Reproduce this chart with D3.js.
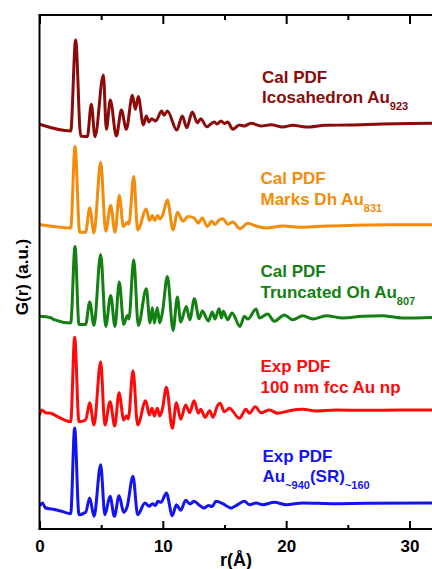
<!DOCTYPE html>
<html><head><meta charset="utf-8">
<script src="https://cdn.jsdelivr.net/npm/d3@7"></script>
<style>
html,body{margin:0;padding:0;background:#fff;overflow:hidden;}
svg{display:block;font-family:Arial,"Liberation Sans",sans-serif;font-weight:bold;}
</style></head>
<body>
<svg id="chart" width="432" height="569"></svg>
<script>
// r (Å) ticks
const majorTicks = [0, 10, 20, 30];
const minorTicks = [5, 15, 25];
const seriesNames = ["Icosahedron Au923", "Marks Dh Au831", "Truncated Oh Au807", "100 nm fcc Au np", "Au~940(SR)~160"];
const seriesColors = ["#8B0A0A", "#F28C0A", "#138013", "#FF0A0A", "#1414F0"];
const seriesOffsets = [40.4, 30.4, 21.2, 11.9, 2.6];

// [r, G] points (G in a.u., relative to each curve's baseline)
const icosahedron = [[0,0.07],[2.53,-0.6],[2.93,8.5],[3.34,-1.1],[3.88,-1.16],[4.2,2.07],[4.5,-1.16],[5.18,5.0],[5.42,-0.43],[5.74,2.5],[6.23,-1.1],[6.64,1.5],[7.04,-0.43],[7.53,2.97],[7.77,1.57],[8.01,2.84],[8.42,0],[8.66,0.9],[8.88,0.3],[9.1,0.63],[9.42,0.4],[9.91,1.4],[10.1,0.97],[10.37,1.4],[11.13,-0.5],[11.58,0.9],[11.94,-0.27],[12.39,1.3],[12.8,0.23],[13.07,0.63],[13.56,-0.17],[14.15,0.3],[14.4,0.1],[14.72,0.4],[15.0,0.15],[15.26,0.3],[15.67,-0.43],[16.2,0],[16.6,-0.1],[17.15,0.17],[17.96,-0.1],[18.77,0.03],[19.72,-0.2],[20.53,-0.03],[21.6,-0.2],[23.2,-0.03],[25.1,0],[27.8,0.1],[31.8,0.17],[33,0.17]];
const marksDh = [[0,0.04],[2.53,-0.3],[2.88,7.84],[3.26,-0.73],[3.74,-0.73],[4.07,1.7],[4.42,-0.8],[4.96,6.27],[5.37,-0.63],[5.77,1.94],[6.12,-0.73],[6.47,2.94],[6.8,-0.16],[7.12,0.27],[7.25,0.1],[7.64,4.84],[7.96,-0.5],[8.66,1.6],[8.9,0.44],[9.15,0.94],[9.34,0.44],[9.58,0.94],[9.77,0.6],[10.0,1.04],[10.37,2.5],[10.83,-0.5],[11.18,1.27],[11.64,0.37],[12.04,0.84],[12.53,0.7],[12.88,0.17],[13.2,0.7],[13.61,-0.16],[13.96,0.37],[14.23,0.04],[14.56,0.5],[14.86,0.63],[15.26,0.07],[15.67,0.3],[16.26,-0.37],[16.88,0.17],[17.56,-0.1],[18.37,-0.3],[19.72,-0.1],[21.35,-0.23],[23.24,-0.1],[25.67,-0.03],[28.37,0.03],[33,0.03]];
const truncatedOh = [[0,0.07],[0.91,-0.07],[1.18,-0.27],[2.53,-0.6],[2.88,7.06],[3.2,-0.74],[3.74,-0.74],[4.07,1.5],[4.42,-0.84],[4.96,6.26],[5.37,-0.94],[5.77,2.16],[6.12,-0.94],[6.47,3.5],[6.83,-0.74],[7.12,0.16],[7.25,-0.2],[7.64,5.73],[8.01,-0.84],[8.66,2.83],[8.96,-0.6],[9.15,0.93],[9.31,-0.6],[9.55,0.93],[9.75,-0.6],[9.96,0.4],[10.37,4.06],[10.83,-1.34],[11.18,2.0],[11.45,-0.5],[11.91,1.06],[12.18,-0.27],[12.56,1.83],[12.94,-0.17],[13.2,0.6],[13.69,-0.4],[14.01,0.5],[14.23,-0.2],[14.56,0.83],[14.75,-0.1],[14.9,0.57],[15.26,-0.27],[15.61,0.4],[16.26,-0.94],[16.61,0.07],[16.9,-0.2],[17.56,0.8],[17.83,-0.1],[18.5,0.3],[19.04,-0.43],[19.85,0.2],[20.53,-0.27],[21.35,0.13],[22.16,-0.2],[23.24,0.13],[24.6,-0.1],[26.2,0.07],[27.8,0.13],[29.4,-0.1],[33,0]];
const fccNp = [[0,-0.5],[0.18,0],[0.5,-0.27],[0.91,-0.33],[1.58,-0.73],[2.53,-1.17],[2.85,7.27],[3.2,-1.17],[3.74,-1.0],[4.07,0.73],[4.42,-1.5],[4.96,4.83],[5.3,-1.5],[5.72,0.83],[6.1,-1.6],[6.45,1.73],[6.83,-1.0],[7.04,-0.6],[7.2,-0.9],[7.58,3.93],[7.96,-1.5],[8.61,0.93],[8.9,-0.5],[9.12,0.17],[9.31,-0.6],[9.55,0.17],[9.75,-0.6],[9.96,0.07],[10.29,2.27],[10.77,-1.83],[11.1,0.73],[11.45,-0.93],[11.85,0.5],[12.18,-0.27],[12.53,0.93],[12.88,-0.33],[13.07,0.07],[13.42,-0.73],[13.8,-0.07],[14.07,-0.73],[14.42,0.4],[14.64,0.67],[14.99,-0.17],[15.4,0.17],[16.2,-0.83],[16.75,0.07],[17.02,-0.33],[17.5,0.33],[17.96,-0.27],[18.64,0],[19.31,-0.33],[20.26,-0.07],[21.35,0.07],[22.43,-0.1],[24.05,0],[26.5,-0.03],[29.2,0],[33,0]];
const auSR = [[0,-0.33],[0.23,0],[0.5,-0.5],[1.0,-0.6],[1.8,-0.83],[2.53,-1.07],[2.85,7.5],[3.2,-1.17],[3.74,-0.93],[4.07,0.5],[4.42,-1.33],[4.96,3.83],[5.3,-1.17],[5.72,0.67],[6.07,-1.33],[6.45,0.73],[6.83,-0.93],[7.1,-0.4],[7.58,2.67],[7.96,-1.17],[8.55,0],[8.9,-0.33],[9.15,-0.07],[9.4,-0.25],[9.6,0.17],[9.85,0.07],[10.29,1.0],[10.77,-1.27],[11.1,-0.17],[11.45,-0.73],[11.85,0.27],[12.2,-0.1],[12.53,0.17],[12.94,-0.2],[13.34,-0.5],[13.7,-0.25],[14.0,-0.35],[14.31,0.17],[14.86,-0.07],[15.53,-0.5],[15.94,-0.27],[16.61,0.17],[17.02,-0.17],[17.56,0],[18.1,-0.17],[19.04,0.07],[19.99,-0.17],[21.35,0],[23.8,-0.07],[26.5,-0.03],[33,0]];
const seriesData = [icosahedron, marksDh, truncatedOh, fccNp, auSR];

const svg = d3.select("#chart");
const x = d3.scaleLinear().domain([0, 30]).range([39.5, 409.5]);
const y = d3.scaleLinear().domain([0, 51.4]).range([529, 15]);
const xEnd = 440;

// curves
const clip = svg.append("clipPath").attr("id","plotclip").append("rect")
  .attr("x", 39.5).attr("y", 0).attr("width", 400).attr("height", 529);
seriesData.forEach((d, i) => {
  const line = d3.line()
    .x(p => x(p[0]))
    .y(p => y(p[1] + seriesOffsets[i]))
    .curve(d3.curveMonotoneX);
  svg.append("path").attr("d", line(d)).attr("fill","none")
    .attr("stroke", seriesColors[i]).attr("stroke-width", 3)
    .attr("stroke-linejoin","round").attr("clip-path","url(#plotclip)");
});

// axes
const axisBottom = d3.axisBottom(x).tickValues(majorTicks).tickSize(-8).tickPadding(11).tickFormat(d3.format("d"));
const gb = svg.append("g").attr("transform", `translate(0,${y(0)})`).call(axisBottom);
const gbm = svg.append("g").attr("transform", `translate(0,${y(0)})`).call(d3.axisBottom(x).tickValues(minorTicks).tickSize(-4).tickFormat(""));
const gt = svg.append("g").attr("transform", `translate(0,${y(51.4)})`).call(d3.axisTop(x).tickValues(majorTicks).tickSize(-9).tickFormat(""));
const gtm = svg.append("g").attr("transform", `translate(0,${y(51.4)})`).call(d3.axisTop(x).tickValues(minorTicks).tickSize(-5).tickFormat(""));
[gb, gbm, gt, gtm].forEach(g => {
  g.select(".domain").remove();
  g.selectAll(".tick line").attr("stroke","#000").attr("stroke-width",2);
});
gb.selectAll(".tick text").attr("font-size", 17).attr("font-weight","bold")
  .attr("font-family","Arial, 'Liberation Sans', sans-serif").attr("fill","#000");

// frame lines
svg.append("line").attr("x1", x(0)).attr("x2", x(0)).attr("y1", y(51.4)).attr("y2", y(0)).attr("stroke","#000").attr("stroke-width",2);
svg.append("line").attr("x1", x(0)-1).attr("x2", xEnd).attr("y1", y(0)).attr("y2", y(0)).attr("stroke","#000").attr("stroke-width",2);
svg.append("line").attr("x1", x(0)-1).attr("x2", xEnd).attr("y1", y(51.4)).attr("y2", y(51.4)).attr("stroke","#000").attr("stroke-width",2);

// axis titles
svg.append("text").attr("x", 236).attr("y", 566).attr("text-anchor","middle").attr("font-size", 18).text("r(Å)");
svg.append("text").attr("transform","translate(28,277) rotate(-90)").attr("text-anchor","middle").attr("font-size", 17).text("G(r) (a.u.)");

// labels
const labels = [
  {c:0, x:262, y1:83, y2:103, l1:"Cal PDF", parts:[["Icosahedron Au",0],["923",1]]},
  {c:1, x:260.5, y1:184, y2:205, l1:"Cal PDF", parts:[["Marks Dh Au",0],["831",1]]},
  {c:2, x:260.5, y1:276.5, y2:297.5, l1:"Cal PDF", parts:[["Truncated Oh Au",0],["807",1]]},
  {c:3, x:260.5, y1:371.5, y2:392.5, l1:"Exp PDF", parts:[["100 nm fcc Au np",0]]},
  {c:4, x:262.5, y1:461.5, y2:481.5, l1:"Exp PDF", parts:[["Au",0],["~940",1],["(SR)",0],["~160",1]]}
];
labels.forEach(L => {
  const col = seriesColors[L.c];
  svg.append("text").attr("x", L.x).attr("y", L.y1).attr("font-size", 17).attr("fill", col).text(L.l1);
  const t = svg.append("text").attr("x", L.x).attr("y", L.y2).attr("font-size", 17).attr("fill", col);
  L.parts.forEach(p => {
    const ts = t.append("tspan").text(p[0]);
    if (p[1]) ts.attr("font-size", 11).attr("dy", 7);
    else if (t.selectAll("tspan").size() > 1) ts.attr("dy", -7);
  });
});
</script>
</body></html>
